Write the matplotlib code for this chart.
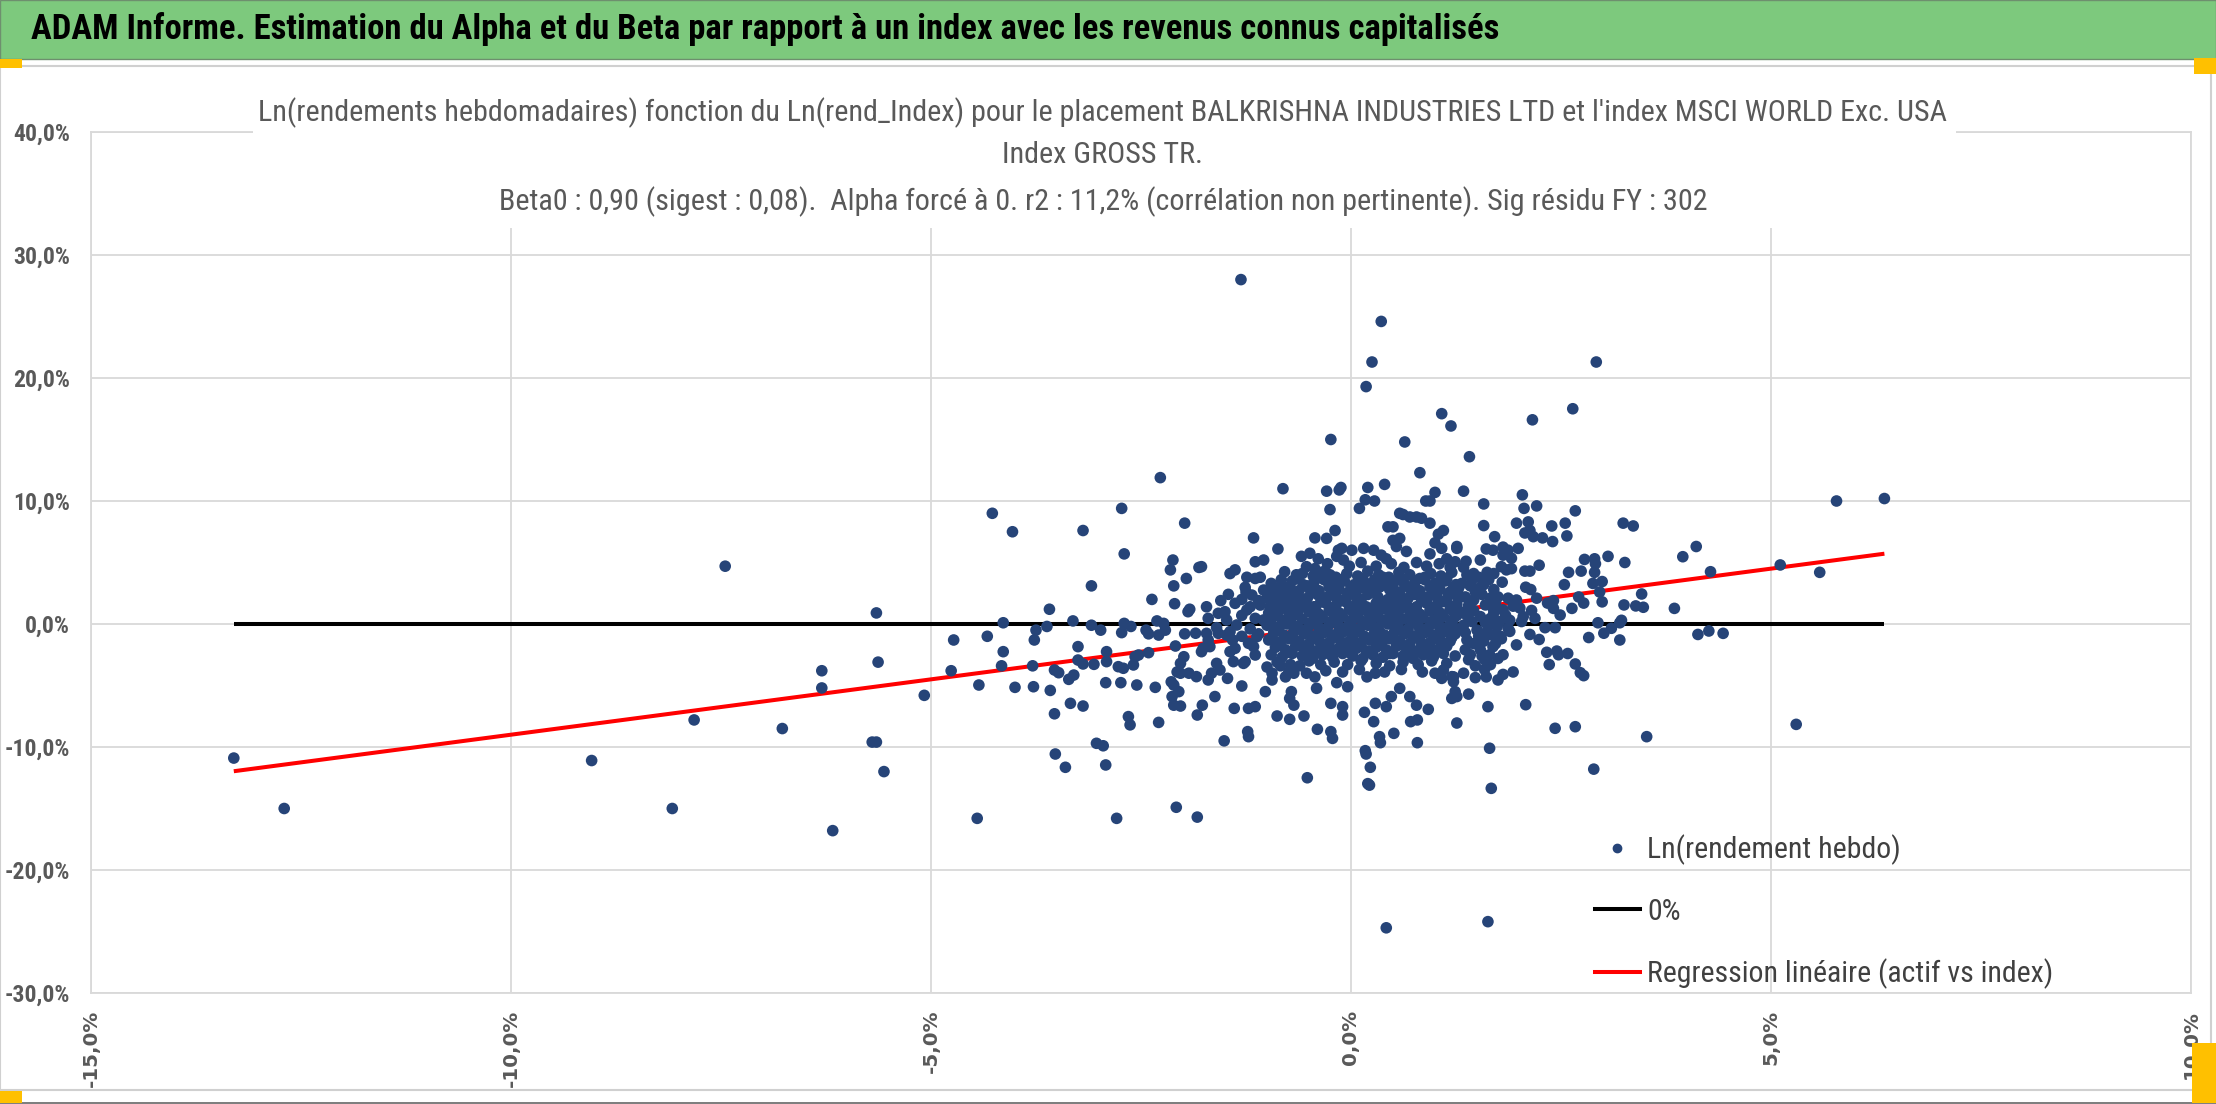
import matplotlib
matplotlib.use("Agg")
import matplotlib.pyplot as plt
from matplotlib.patches import Rectangle
from matplotlib.lines import Line2D

# weekly log-returns (x = index, y = asset), in %
far_left = [(-13.3, -10.9), (-12.7, -15.0), (-9.04, -11.1), (-8.08, -15.0), (-7.82, -7.8),
            (-7.45, 4.7), (-6.77, -8.5), (-6.30, -3.8), (-6.30, -5.2), (-6.17, -16.8),
            (-5.70, -9.6), (-5.65, -9.6), (-5.65, 0.9), (-5.63, -3.1), (-5.56, -12.0),
            (-5.08, -5.8), (-4.76, -3.8), (-4.45, -15.8), (-2.79, -15.8), (-1.83, -15.7)]

upper_left = [(-2.27, 11.9), (-4.27, 9.0), (-4.03, 7.5), (-2.73, 9.4), (-3.19, 7.6), (-1.98, 8.2),
              (-2.70, 5.7), (-2.12, 5.2), (-2.15, 4.4), (-1.96, 3.7), (-2.11, 3.1), (-1.81, 4.6),
              (-3.09, 3.1), (-2.37, 2.0), (-2.10, 1.65), (-1.94, 1.0), (-1.92, 1.2), (-3.59, 1.2),
              (-4.14, 0.1), (-4.33, -1.0), (-3.75, -0.5), (-3.62, -0.2), (-3.31, 0.25), (-3.09, -0.1),
              (-2.98, -0.5), (-2.70, 0.05), (-2.73, -0.7), (-2.62, -0.2), (-2.44, -0.5), (-2.41, -0.8),
              (-2.31, 0.25), (-2.23, 0.05), (-2.21, -0.5), (-2.29, -0.9), (-1.98, -0.8), (-1.85, -0.75),
              (-4.73, -1.3), (-3.77, -1.3)]

upper_tail = [(-1.31, 28.0), (0.36, 24.6), (0.25, 21.3), (0.18, 19.3), (2.92, 21.3), (1.08, 17.1),
              (1.19, 16.1), (2.16, 16.6), (2.64, 17.5), (-0.24, 15.0), (0.64, 14.8), (1.41, 13.6),
              (0.82, 12.3), (-0.81, 11.0), (-0.29, 10.8), (-0.14, 10.9), (-0.12, 11.1), (0.20, 11.1),
              (0.40, 11.35), (1.34, 10.8), (1.00, 10.7), (2.04, 10.5)]

upper_mid = [(-0.25, 9.3), (0.10, 9.4), (0.17, 10.1), (0.28, 10.0), (0.89, 10.0), (0.94, 10.0),
             (0.58, 9.0), (0.62, 8.9), (0.70, 8.7), (0.78, 8.7), (0.84, 8.6), (0.94, 8.2), (0.44, 7.9),
             (0.50, 7.9), (-0.19, 7.6), (-0.43, 7.0), (-0.29, 6.96), (-1.16, 7.0), (-0.87, 6.1),
             (-0.11, 6.15), (-0.15, 6.0), (0.01, 6.0), (0.15, 6.15), (0.27, 6.0), (0.36, 5.6), (0.42, 5.3),
             (0.50, 6.8), (0.58, 6.96), (0.54, 6.3), (0.66, 5.9), (1.04, 7.3), (1.10, 7.6), (1.00, 6.6),
             (1.08, 6.15), (0.94, 5.7), (1.14, 5.3), (1.26, 6.15), (1.24, 5.06), (-1.14, 5.06),
             (-1.04, 5.2), (-0.59, 5.5), (-0.49, 5.75), (-0.39, 5.3), (-0.17, 5.5), (-0.09, 5.2),
             (-1.44, 4.1), (-1.38, 4.4), (-1.24, 3.8), (-1.14, 3.7), (-1.08, 3.8), (-0.83, 3.6),
             (-0.79, 4.25), (-0.65, 4.0), (-0.53, 4.66), (-0.43, 4.5), (-0.33, 4.25), (-0.25, 4.0),
             (-1.78, 4.66), (-1.26, 2.98), (-1.18, 2.35), (-1.04, 2.76), (-1.46, 2.41), (-1.38, 1.68),
             (-0.94, 2.6), (-0.83, 2.55), (-0.71, 2.76), (-1.24, 1.14), (-1.20, 1.4), (-1.08, 1.54),
             (-0.96, 1.4), (-1.72, 1.4), (-1.58, 0.87), (-1.70, 0.46), (-1.48, 0.33), (-1.36, -0.08),
             (-1.14, 0.46), (-1.04, 0.33), (-1.00, -3.5), (-0.94, -4.0), (-0.84, -3.4), (-0.78, -4.3),
             (-0.74, -3.9), (-0.68, -4.0), (-0.61, -3.4), (-0.53, -4.0), (-0.43, -4.3), (0.19, -4.3),
             (0.29, -4.0), (1.10, -3.74), (1.22, -4.3)]

lower_left = [(-4.14, -2.25), (-4.16, -3.4), (-3.79, -3.4), (-4.43, -4.96), (-4.0, -5.15),
              (-3.78, -5.1), (-3.58, -5.4), (-3.53, -3.74), (-3.48, -3.96), (-3.53, -7.3),
              (-3.34, -6.45), (-3.19, -6.67), (-3.36, -4.5), (-3.30, -4.15), (-3.25, -1.84),
              (-3.25, -2.93), (-3.19, -3.25), (-3.06, -3.28), (-2.91, -2.25), (-2.91, -3.06),
              (-2.77, -3.47), (-2.71, -3.6), (-2.59, -3.33), (-2.57, -2.66), (-2.53, -2.52),
              (-2.41, -2.33), (-2.92, -4.77), (-2.74, -4.77), (-2.55, -4.96), (-2.33, -5.15),
              (-2.65, -7.53), (-2.63, -8.2), (-2.29, -8.0), (-3.03, -9.7), (-2.95, -9.9),
              (-3.52, -10.57), (-3.40, -11.65), (-2.92, -11.46), (-2.08, -14.9), (-2.09, -1.79),
              (-1.99, -2.66), (-2.03, -3.2), (-2.07, -3.9), (-2.03, -4.0), (-1.93, -4.0), (-2.14, -4.7),
              (-2.11, -4.96), (-2.05, -5.5), (-2.13, -5.9), (-2.11, -6.6), (-2.03, -6.67), (-1.84, -4.28),
              (-1.77, -6.6), (-1.83, -7.4), (-1.62, -5.9), (-1.70, -4.55), (-1.66, -4.0), (-1.60, -3.2),
              (-1.56, -3.74), (-1.47, -4.42), (-1.72, -0.76), (-1.70, -1.3), (-1.76, -1.98),
              (-1.78, -2.25), (-1.68, -1.84), (-1.58, -0.76), (-1.48, -0.9), (-1.44, -0.62),
              (-1.41, -1.3), (-1.38, -1.98), (-1.44, -2.25), (-1.40, -3.06), (-1.30, -5.04),
              (-1.28, -3.2), (-1.26, -3.06), (-1.22, -1.57), (-1.16, -1.84), (-1.12, -1.03),
              (-1.14, -2.52), (-1.39, -6.86), (-1.22, -6.86), (-1.14, -6.72), (-1.23, -8.75),
              (-1.22, -9.16), (-1.51, -9.5)]

lower_mid = [(-1.02, -5.5), (-0.94, -4.55), (-0.71, -5.5), (-0.73, -6.05), (-0.68, -6.6),
             (-0.88, -7.48), (-0.73, -7.75), (-0.56, -7.48), (-0.40, -8.56), (-0.24, -8.75),
             (-0.22, -9.3), (-0.52, -12.5), (-0.24, -6.45), (-0.41, -5.23), (-0.17, -4.77),
             (-0.10, -6.72), (-0.10, -7.4), (-0.04, -5.1), (0.16, -7.18), (0.29, -6.45), (0.27, -7.94),
             (0.42, -6.72), (0.48, -5.9), (0.34, -9.16), (0.35, -9.65), (0.51, -8.89), (0.18, -10.57),
             (0.23, -11.65), (0.20, -12.98), (0.70, -5.9), (0.78, -6.6), (0.71, -7.94), (0.79, -7.8),
             (0.92, -6.94), (0.79, -9.65), (0.58, -5.23), (1.08, -4.42), (1.20, -4.28), (1.22, -4.69),
             (1.20, -6.05), (1.24, -5.5), (1.26, -5.9), (1.26, -8.05), (1.63, -6.72), (2.08, -6.56),
             (1.65, -10.1), (1.67, -13.36), (2.43, -8.48), (0.42, -24.7), (1.63, -24.2)]

right_wing = [(1.58, 9.76), (2.06, 9.4), (2.21, 9.6), (2.67, 9.2), (1.97, 8.2), (2.11, 8.3), (2.13, 7.6),
              (2.07, 7.4), (2.17, 7.1), (2.28, 7.0), (2.39, 7.97), (2.55, 8.2), (2.57, 7.16), (2.40, 6.7),
              (1.58, 8.0), (3.24, 8.2), (3.36, 7.97), (3.95, 5.47), (4.11, 6.3), (4.28, 4.25), (3.06, 5.5),
              (3.26, 5.0), (2.78, 5.25), (2.90, 5.3), (2.91, 4.9), (2.74, 4.3), (2.90, 4.2), (2.59, 4.2),
              (2.54, 3.2), (2.88, 3.3), (2.99, 3.45), (2.96, 2.6), (2.71, 2.2), (2.77, 1.7), (2.99, 1.8),
              (2.63, 1.27), (3.46, 2.44), (3.25, 1.55), (3.39, 1.47), (3.48, 1.36), (3.85, 1.27),
              (2.94, 0.1), (3.22, 0.3), (3.20, 0.1), (3.10, -0.35), (3.01, -0.75), (2.83, -1.1),
              (3.20, -1.3), (4.13, -0.85), (4.26, -0.57), (4.43, -0.76), (2.31, -0.30), (2.43, -0.30),
              (2.13, -0.85), (2.24, -1.26), (2.33, -2.3), (2.45, -2.2), (2.47, -2.5), (2.58, -2.4),
              (2.36, -3.3), (2.67, -3.25), (2.73, -3.96), (2.77, -4.2), (1.93, -3.9), (1.75, -4.55),
              (1.59, -3.7), (1.48, -4.36), (1.40, -5.7), (1.81, -2.5), (1.65, -2.5), (1.42, -2.5),
              (1.97, -1.7), (1.89, -0.6), (1.78, -1.0), (2.19, 0.46), (2.15, 1.1), (2.05, 0.6),
              (2.49, 0.73), (2.41, 1.27), (2.34, 1.7), (2.21, 2.1), (2.14, 2.8), (2.08, 2.99), (2.41, 1.9),
              (2.24, 4.78), (2.07, 4.3), (2.13, 4.3), (1.81, 6.25), (1.87, 6.0), (1.81, 5.6), (1.91, 5.35),
              (1.71, 7.1), (1.61, 6.1), (1.69, 6.0), (1.54, 5.2), (1.37, 5.1), (1.99, 6.15), (1.79, 4.66),
              (1.85, 4.4), (1.91, 4.5), (1.46, 4.1), (1.44, 3.6), (1.58, 3.2), (1.64, 3.6), (1.70, 2.8),
              (1.75, 2.2), (1.87, 2.1), (1.97, 1.95), (1.32, 3.3), (1.36, 2.2), (1.46, 1.95), (1.60, 1.55),
              (1.69, 1.3), (1.81, 1.15), (1.93, 1.45), (2.01, 1.3), (1.54, 0.6), (1.66, 0.45), (1.77, 0.2),
              (1.89, 0.3), (2.03, 0.2), (1.38, 0.7), (1.34, -0.1), (1.50, -0.5), (1.62, -0.6), (1.74, -0.2),
              (1.87, -0.35), (1.38, -1.3), (1.52, -1.0), (1.68, -0.9), (1.79, -1.2), (1.36, -2.1),
              (1.54, -2.1), (1.69, -1.85), (1.40, -2.9), (1.59, -2.9), (1.75, -2.8), (1.34, -4.0),
              (1.61, -4.3), (1.81, -4.1), (1.26, 6.3)]

far_right = [(2.67, -8.35), (3.52, -9.16), (2.89, -11.8), (5.30, -8.16), (5.11, 4.8), (5.58, 4.2),
             (5.78, 10.0), (6.35, 10.2), (0.17, -10.3), (0.22, -13.1)]

core = [(-0.28, 4.9), (-0.02, 4.7), (0.12, 5.0), (0.30, 4.7), (0.48, 4.9), (0.63, 4.6), (0.78, 5.0),
        (0.90, 4.7), (1.05, 4.9), (1.18, 4.6),
        (-0.58, 4.1), (-0.45, 3.9), (-0.31, 4.2), (-0.18, 3.8), (-0.05, 4.1), (0.08, 3.9), (0.20, 4.3),
        (0.33, 4.0), (0.45, 3.8), (0.57, 4.2), (0.70, 4.0), (0.82, 3.7), (0.95, 4.1), (1.07, 3.9), (1.20, 4.2),
        (-0.95, 3.3), (-0.70, 3.5), (-0.57, 3.2), (-0.44, 3.4), (-0.32, 3.6), (-0.20, 3.3), (-0.08, 3.5),
        (0.04, 3.2), (0.16, 3.4), (0.28, 3.6), (0.40, 3.3), (0.52, 3.5), (0.64, 3.2), (0.76, 3.4),
        (0.88, 3.6), (1.00, 3.3), (1.12, 3.5), (1.25, 3.2),
        (-0.86, 2.9), (-0.62, 2.7), (-0.50, 2.9), (-0.38, 2.7), (-0.26, 3.0), (-0.14, 2.8), (-0.02, 2.6),
        (0.10, 2.9), (0.22, 2.7), (0.34, 3.0), (0.46, 2.8), (0.58, 2.6), (0.70, 2.9), (0.82, 2.7),
        (0.94, 3.0), (1.06, 2.8), (1.18, 2.6), (1.28, 2.9),
        (-1.00, 2.1), (-0.88, 2.3), (-0.76, 2.0), (-0.64, 2.3), (-0.52, 2.1), (-0.40, 2.4), (-0.28, 2.2),
        (-0.16, 2.0), (-0.04, 2.3), (0.08, 2.1), (0.20, 2.4), (0.32, 2.2), (0.44, 2.0), (0.56, 2.3),
        (0.68, 2.1), (0.80, 2.4), (0.92, 2.2), (1.04, 2.0), (1.16, 2.3), (1.28, 2.1),
        (-0.90, 1.7), (-0.78, 1.5), (-0.66, 1.8), (-0.54, 1.6), (-0.42, 1.4), (-0.30, 1.7), (-0.18, 1.5),
        (-0.06, 1.8), (0.06, 1.6), (0.18, 1.4), (0.30, 1.7), (0.42, 1.5), (0.54, 1.8), (0.66, 1.6),
        (0.78, 1.4), (0.90, 1.7), (1.02, 1.5), (1.14, 1.8), (1.26, 1.6),
        (-0.98, 0.9), (-0.86, 1.1), (-0.74, 0.9), (-0.62, 1.2), (-0.50, 1.0), (-0.38, 0.8), (-0.26, 1.1),
        (-0.14, 0.9), (-0.02, 1.2), (0.10, 1.0), (0.22, 0.8), (0.34, 1.1), (0.46, 0.9), (0.58, 1.2),
        (0.70, 1.0), (0.82, 0.8), (0.94, 1.1), (1.06, 0.9), (1.18, 1.2), (1.30, 1.0),
        (-0.94, 0.5), (-0.82, 0.3), (-0.70, 0.6), (-0.58, 0.4), (-0.46, 0.2), (-0.34, 0.5), (-0.22, 0.3),
        (-0.10, 0.6), (0.02, 0.4), (0.14, 0.2), (0.26, 0.5), (0.38, 0.3), (0.50, 0.6), (0.62, 0.4),
        (0.74, 0.2), (0.86, 0.5), (0.98, 0.3), (1.10, 0.6), (1.22, 0.4),
        (-1.00, -0.1), (-0.88, -0.3), (-0.76, 0.0), (-0.64, -0.2), (-0.52, -0.4), (-0.40, -0.1),
        (-0.28, -0.3), (-0.16, 0.0), (-0.04, -0.2), (0.08, -0.4), (0.20, -0.1), (0.32, -0.3), (0.44, 0.0),
        (0.56, -0.2), (0.68, -0.4), (0.80, -0.1), (0.92, -0.3), (1.04, 0.0), (1.16, -0.2), (1.28, -0.4),
        (-0.92, -0.7), (-0.80, -0.9), (-0.68, -0.6), (-0.56, -0.8), (-0.44, -1.0), (-0.32, -0.7),
        (-0.20, -0.9), (-0.08, -0.6), (0.04, -0.8), (0.16, -1.0), (0.28, -0.7), (0.40, -0.9), (0.52, -0.6),
        (0.64, -0.8), (0.76, -1.0), (0.88, -0.7), (1.00, -0.9), (1.12, -0.6), (1.24, -0.8),
        (-0.98, -1.3), (-0.86, -1.5), (-0.74, -1.2), (-0.62, -1.4), (-0.50, -1.6), (-0.38, -1.3),
        (-0.26, -1.5), (-0.14, -1.2), (-0.02, -1.4), (0.10, -1.6), (0.22, -1.3), (0.34, -1.5), (0.46, -1.2),
        (0.58, -1.4), (0.70, -1.6), (0.82, -1.3), (0.94, -1.5), (1.06, -1.2), (1.18, -1.4),
        (-0.90, -1.9), (-0.78, -2.1), (-0.66, -1.8), (-0.54, -2.0), (-0.42, -2.2), (-0.30, -1.9),
        (-0.18, -2.1), (-0.06, -1.8), (0.06, -2.0), (0.18, -2.2), (0.30, -1.9), (0.42, -2.1), (0.54, -1.8),
        (0.66, -2.0), (0.78, -2.2), (0.90, -1.9), (1.02, -2.1), (1.14, -1.8),
        (-0.95, -2.5), (-0.82, -2.7), (-0.70, -2.4), (-0.58, -2.6), (-0.46, -2.8), (-0.34, -2.5),
        (-0.22, -2.7), (-0.10, -2.4), (0.02, -2.6), (0.14, -2.8), (0.26, -2.5), (0.38, -2.7), (0.50, -2.4),
        (0.62, -2.6), (0.74, -2.8), (0.86, -2.5), (0.98, -2.7), (1.10, -2.4), (1.24, -2.6),
        (-0.88, -3.1), (-0.72, -3.3), (-0.50, -3.0), (-0.36, -3.3), (-0.20, -3.1), (-0.04, -3.3),
        (0.12, -3.0), (0.30, -3.2), (0.46, -3.4), (0.62, -3.1), (0.80, -3.3), (0.96, -3.0), (1.14, -3.2),
        (-0.30, -3.8), (-0.10, -3.9), (0.10, -3.7), (0.40, -3.9), (0.60, -3.7), (0.85, -3.9), (1.00, -4.0)]

core_extra = [(-0.64, 3.7), (-0.38, 3.8), (-0.12, 3.6), (0.14, 3.7), (0.38, 3.8), (0.62, 3.6), (0.88, 3.8),
              (1.14, 3.7), (-0.78, 3.0), (-0.52, 3.1), (-0.26, 3.2), (0.00, 3.0), (0.24, 3.1), (0.50, 3.2),
              (0.74, 3.0), (1.00, 3.1), (1.22, 3.0), (-0.94, 2.5), (-0.70, 2.4), (-0.44, 2.6), (-0.20, 2.5),
              (0.04, 2.4), (0.28, 2.6), (0.52, 2.5), (0.76, 2.4), (1.00, 2.6), (1.22, 2.5), (-0.84, 1.9),
              (-0.60, 2.0), (-0.36, 1.8), (-0.12, 1.9), (0.12, 2.0), (0.36, 1.8), (0.60, 1.9), (0.84, 2.0),
              (1.08, 1.8), (-0.92, 1.3), (-0.68, 1.2), (-0.44, 1.4), (-0.20, 1.3), (0.04, 1.2), (0.28, 1.4),
              (0.52, 1.3), (0.76, 1.2), (1.00, 1.4), (1.24, 1.3), (-0.88, 0.7), (-0.64, 0.8), (-0.40, 0.6),
              (-0.16, 0.7), (0.08, 0.8), (0.32, 0.6), (0.56, 0.7), (0.80, 0.8), (1.04, 0.6), (1.26, 0.7),
              (-0.96, 0.1), (-0.72, 0.2), (-0.48, 0.0), (-0.24, 0.1), (0.00, 0.2), (0.24, 0.0), (0.48, 0.1),
              (0.72, 0.2), (0.96, 0.0), (1.20, 0.1), (-0.86, -0.5), (-0.62, -0.4), (-0.38, -0.6),
              (-0.14, -0.5), (0.10, -0.4), (0.34, -0.6), (0.58, -0.5), (0.82, -0.4), (1.06, -0.6),
              (-0.94, -1.1), (-0.70, -1.0), (-0.46, -1.2), (-0.22, -1.1), (0.02, -1.0), (0.26, -1.2),
              (0.50, -1.1), (0.74, -1.0), (0.98, -1.2), (1.20, -1.1), (-0.84, -1.7), (-0.60, -1.8),
              (-0.36, -1.6), (-0.12, -1.7), (0.12, -1.8), (0.36, -1.6), (0.60, -1.7), (0.84, -1.8),
              (1.08, -1.6), (-0.74, -2.3), (-0.50, -2.2), (-0.26, -2.4), (-0.02, -2.3), (0.22, -2.2),
              (0.46, -2.4), (0.70, -2.3), (0.94, -2.2)]

core_edges = [(1.34, 4.6), (1.42, 3.1), (1.48, 2.6), (1.40, 1.5), (1.46, 1.1), (1.52, 2.9), (1.56, 2.4),
              (1.60, 0.1), (1.44, 0.2), (1.36, -0.7), (1.46, -1.6), (1.58, -1.4), (1.64, -0.1), (1.70, 0.9),
              (1.66, 2.1), (1.72, 1.7), (1.62, 4.2), (1.52, 3.8), (1.70, 4.1), (1.48, -3.4), (1.56, -2.6),
              (1.66, -3.3), (1.72, -1.6), (1.84, 0.7), (1.80, 3.4), (1.38, 4.0),
              (-1.30, 2.0), (-1.50, 1.0), (-1.30, 0.7), (-1.20, -0.4), (-1.30, -1.0), (-1.10, 1.9),
              (-1.60, -0.3), (-1.25, 2.6), (-1.55, 1.9), (-1.10, -0.8)]

beta0 = 0.90

title_lines = [
    "Ln(rendements hebdomadaires) fonction du Ln(rend_Index) pour le placement BALKRISHNA INDUSTRIES LTD et l'index MSCI WORLD Exc. USA",
    "Index GROSS TR.",
    "Beta0 : 0,90 (sigest : 0,08).  Alpha forcé à 0. r2 : 11,2% (corrélation non pertinente). Sig résidu FY : 302",
]
header = "ADAM Informe. Estimation du Alpha et du Beta par rapport à un index avec les revenus connus capitalisés"
legend_labels = ["Ln(rendement hebdo)", "0%", "Regression linéaire (actif vs index)"]

points = (far_left + upper_left + upper_tail + upper_mid + lower_left + lower_mid
          + right_wing + far_right + core + core_extra + core_edges)
xs = [p[0] for p in points]
ys = [p[1] for p in points]

narrow = ['Roboto Condensed', 'Roboto', 'DejaVu Sans']
grey = '#595959'
W, H = 2216, 1104


def pct(v):
    return f"{v:.1f}".replace('.', ',') + '%'


fig = plt.figure(figsize=(W / 100, H / 100), dpi=100)
renderer = fig.canvas.get_renderer()


def fit(t, target_px):
    # scale a text so its width matches the original's width in pixels
    w = t.get_window_extent(renderer).width
    t.set_fontsize(t.get_fontsize() * target_px / w)
    return t.get_fontsize()


# green banner
fig.patches.append(Rectangle((0, 1 - 59 / H), 1, 59 / H, transform=fig.transFigure,
                             facecolor='#7DC97D', edgecolor='#6E8F6E', lw=1, zorder=0))
ht = fig.text(31 / W, 1 - 29 / H, header, fontsize=22, fontweight='bold', family=narrow,
              ha='left', va='center', color='black')
fit(ht, 1467)
# chart area frame
fig.patches.append(Rectangle((0, 1 - 1090 / H), 2211 / W, (1090 - 66) / H, transform=fig.transFigure,
                             facecolor='none', edgecolor='#D0D0D0', lw=1.5, zorder=0))
fig.patches.append(Rectangle((0, 0), 1, 2 / H, transform=fig.transFigure,
                             facecolor='#7F7F7F', edgecolor='none', zorder=0))
# selection handles
for (x0, y0, w, h) in [(0, 59, 22, 9), (2194, 58, 22, 16), (0, 1091, 22, 12), (2192, 1043, 24, 60)]:
    fig.patches.append(Rectangle((x0 / W, 1 - (y0 + h) / H), w / W, h / H, transform=fig.transFigure,
                                 facecolor='#FFC000', edgecolor='none', zorder=5))

# x tick label size measured against the original ("0,0%" is 55 px long)
probe = fig.text(0, 0, pct(0), fontsize=14, fontweight='bold', family='DejaVu Sans')
xfs = fit(probe, 55)
probe.remove()

ax = fig.add_axes([91 / W, 1 - 993 / H, 2100 / W, 861 / H])
ax.set_xlim(-15, 10)
ax.set_ylim(-30, 40)
xt = list(range(-15, 11, 5))
yt = list(range(-30, 41, 10))
ax.set_xticks(xt)
ax.set_yticks(yt)
ax.set_xticklabels([pct(v) for v in xt], rotation=90, fontsize=xfs, fontweight='bold',
                   color=grey, family='DejaVu Sans')
ax.set_yticklabels([pct(v) for v in yt], fontsize=17, fontweight='bold', color=grey, family=narrow)
ax.tick_params(length=0)
ax.tick_params(axis='x', pad=12)
ax.tick_params(axis='y', pad=15)
ax.grid(True, color='#D9D9D9', lw=1.3)
ax.set_axisbelow(True)
for s in ax.spines.values():
    s.set_color('#D9D9D9')
    s.set_linewidth(1.3)

xl = [min(xs), max(xs)]
ax.plot(xl, [0, 0], color='black', lw=2.9, zorder=2, solid_capstyle='butt')
ax.plot(xl, [beta0 * v for v in xl], color='#FF0000', lw=2.9, zorder=2, solid_capstyle='butt')
ax.scatter(xs, ys, s=70, color='#264478', edgecolors='none', zorder=3)

probe = fig.text(0, 0, legend_labels[2], fontsize=20, family=narrow)
lfs = fit(probe, 406)
probe.remove()
handles = [Line2D([], [], ls='none', marker='o', ms=6, color='#264478'),
           Line2D([], [], color='black', lw=2.9),
           Line2D([], [], color='#FF0000', lw=2.9)]
leg = ax.legend(handles, legend_labels, loc='lower left', bbox_to_anchor=(0.709, -0.013), frameon=False,
                borderpad=0, labelspacing=1.1, handlelength=1.5, handletextpad=0.25,
                prop={'family': narrow, 'size': lfs})
for t in leg.get_texts():
    t.set_color('#404040')

# chart title on a white box (hides the top gridline like the original)
fig.patches.append(Rectangle((253 / W, 1 - 228 / H), (1956 - 253) / W, (228 - 85) / H,
                             transform=fig.transFigure, facecolor='white', edgecolor='none', zorder=4))
tts = [fig.text(1103 / W, 1 - yy / H, line, fontsize=21, family=narrow, color=grey,
                ha='center', va='center', zorder=6)
       for yy, line in zip([113, 155, 202], title_lines)]
tfs = fit(tts[0], 1688)
for t in tts[1:]:
    t.set_fontsize(tfs)

fig.savefig('out.png', dpi=100)
